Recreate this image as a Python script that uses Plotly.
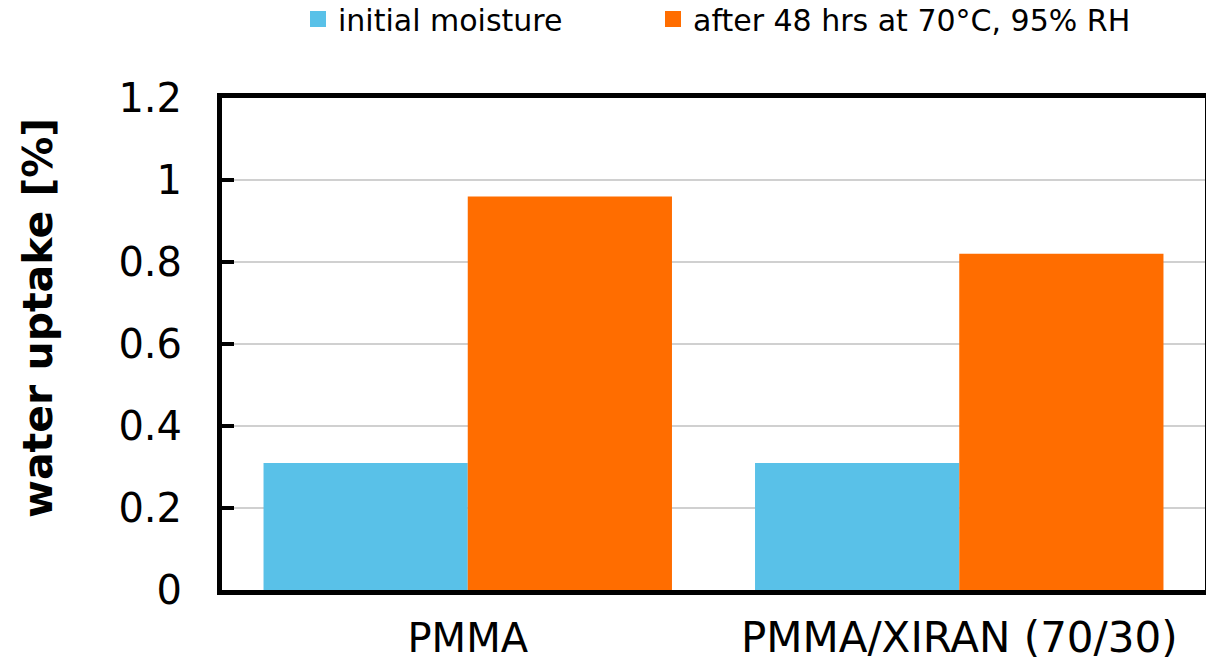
import plotly.graph_objects as go

categories = ["PMMA", "PMMA/XIRAN (70/30)"]
initial = [0.31, 0.31]
after = [0.96, 0.82]
series_names = ["initial moisture", "after 48 hrs at 70°C, 95% RH"]
colors = ["#59C1E8", "#FF6D00"]
y_title = "water uptake [%]"

# second category label is rendered slightly larger in the reference
tick_sizes = [40, 42]
ticktext = [f"<span style='font-size:{s}px'>{c}</span>" for c, s in zip(categories, tick_sizes)]

fig = go.Figure()
fig.add_trace(go.Bar(x=categories, y=initial, name=series_names[0], showlegend=False,
                     marker=dict(color=colors[0], line=dict(width=0))))
fig.add_trace(go.Bar(x=categories, y=after, name=series_names[1], showlegend=False,
                     marker=dict(color=colors[1], line=dict(width=0))))
# legend entries with square markers, in two separately placed legends
legend_ids = ["legend", "legend2"]
for name, c, lg in zip(series_names, colors, legend_ids):
    fig.add_trace(go.Scatter(x=[None], y=[None], mode="markers", name=name, legend=lg,
                             marker=dict(symbol="square", size=20, color=c), showlegend=True))

font_family = "DejaVu Sans, Verdana, sans-serif"
L, R, T, B = 214, 17, 90, 83
W, H = 1214, 665
pw = W - L - R
ph = H - T - B

def px_to_paper_x(px):
    return (px - L) / pw

leg_common = dict(orientation="h", xanchor="left", y=(H - B + 15) / ph, yanchor="top", yref="paper",
                  font=dict(size=30, family=font_family), itemsizing="trace", itemwidth=30,
                  bgcolor="rgba(0,0,0,0)")

fig.update_layout(
    width=W, height=H,
    margin=dict(l=L, r=R, t=T, b=B, autoexpand=False),
    plot_bgcolor="white", paper_bgcolor="white",
    barmode="group", bargap=0.169, bargroupgap=0,
    font=dict(family=font_family, color="black"),
    legend=dict(x=px_to_paper_x(290), **leg_common),
    legend2=dict(x=px_to_paper_x(645), **leg_common),
    showlegend=True,
)
fig.add_annotation(text=f"<b>{y_title}</b>", textangle=-90, showarrow=False,
                   xref="paper", yref="paper", x=px_to_paper_x(30), y=(H - B - 317 + 7) / ph,
                   xanchor="center", yanchor="middle", font=dict(size=41, family=font_family))
fig.update_xaxes(showline=True, linecolor="black", linewidth=5, mirror=True, automargin=False,
                 tickmode="array", tickvals=categories, ticktext=ticktext,
                 tickfont=dict(size=40), ticks="", showgrid=False, ticklabelstandoff=9)
fig.update_yaxes(range=[0, 1.2], dtick=0.2, showline=True, linecolor="black", linewidth=5, mirror=True,
                 automargin=False,
                 ticks="inside", ticklen=12, tickwidth=4, tickcolor="black",
                 tickfont=dict(size=40), showgrid=True, gridcolor="#D0D0D0", gridwidth=1.5,
                 ticklabelstandoff=27, zeroline=False)
fig.write_html("out.html")
